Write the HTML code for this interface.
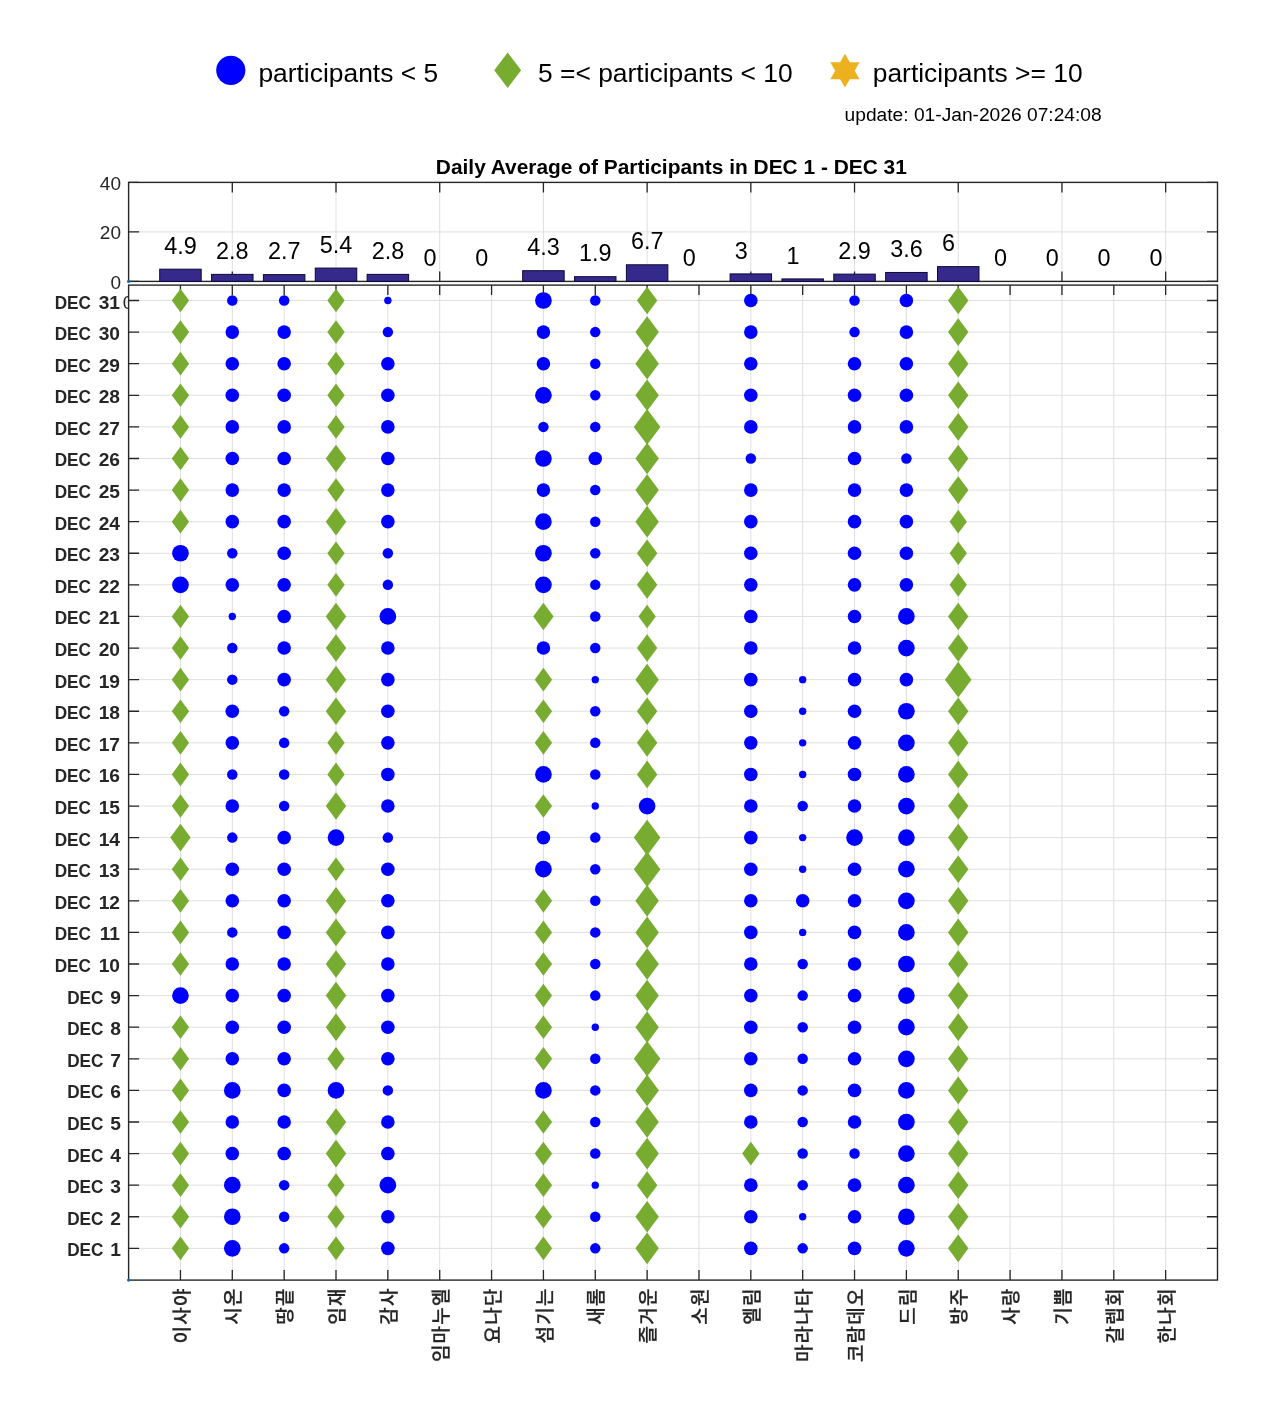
<!DOCTYPE html>
<html><head><meta charset="utf-8"><title>Daily Average of Participants</title>
<style>html,body{margin:0;padding:0;background:#fff;} svg{display:block;}</style>
</head><body>
<svg width="1280" height="1422" viewBox="0 0 1280 1422">
<rect x="0" y="0" width="1280" height="1422" fill="#ffffff"/>
<circle cx="230.8" cy="70.35" r="14.6" fill="#0000ff"/>
<polygon points="507.7,52.6 521.15,70.3 507.7,88.0 494.25,70.3" fill="#77ac30"/>
<polygon points="844.95,53.80 840.07,62.25 830.31,62.25 835.19,70.70 830.31,79.15 840.07,79.15 844.95,87.60 849.83,79.15 859.59,79.15 854.71,70.70 859.59,62.25 849.83,62.25" fill="#edb120"/>
<text x="258.38" y="81.7" font-family="Liberation Sans, Arial, sans-serif" font-size="26.4" fill="#000">participants &lt; 5</text>
<text x="538.04" y="81.7" font-family="Liberation Sans, Arial, sans-serif" font-size="26.4" fill="#000">5 =&lt; participants &lt; 10</text>
<text x="872.78" y="81.7" font-family="Liberation Sans, Arial, sans-serif" font-size="26.4" fill="#000">participants &gt;= 10</text>
<text x="844.55" y="121.3" font-family="Liberation Sans, Arial, sans-serif" font-size="19.2" fill="#000">update: 01-Jan-2026 07:24:08</text>
<text x="435.84" y="173.7" font-family="Liberation Sans, Arial, sans-serif" font-size="20.9" font-weight="bold" fill="#000">Daily Average of Participants in DEC 1 - DEC 31</text>
<rect x="128.6" y="182.4" width="1088.90" height="99.00" fill="#fff"/>
<path d="M232.30 182.4V281.4M336.01 182.4V281.4M439.71 182.4V281.4M543.42 182.4V281.4M647.12 182.4V281.4M750.83 182.4V281.4M854.53 182.4V281.4M958.24 182.4V281.4M1061.94 182.4V281.4M1165.65 182.4V281.4M128.6 231.90H1217.5" stroke="#dfdfdf" stroke-width="1" fill="none"/>
<path d="M232.30 182.4v10M232.30 281.4v-10M336.01 182.4v10M336.01 281.4v-10M439.71 182.4v10M439.71 281.4v-10M543.42 182.4v10M543.42 281.4v-10M647.12 182.4v10M647.12 281.4v-10M750.83 182.4v10M750.83 281.4v-10M854.53 182.4v10M854.53 281.4v-10M958.24 182.4v10M958.24 281.4v-10M1061.94 182.4v10M1061.94 281.4v-10M1165.65 182.4v10M1165.65 281.4v-10M128.6 281.40h10.5M1217.5 281.40h-10.5M128.6 231.90h10.5M1217.5 231.90h-10.5M128.6 182.40h10.5M1217.5 182.40h-10.5" stroke="#262626" stroke-width="1.3" fill="none"/>
<rect x="128.6" y="182.4" width="1088.90" height="99.00" fill="none" stroke="#262626" stroke-width="1.4"/>
<rect x="159.71" y="269.18" width="41.48" height="12.22" fill="#35298c" stroke="#0b0836" stroke-width="1"/>
<rect x="211.56" y="274.37" width="41.48" height="7.03" fill="#35298c" stroke="#0b0836" stroke-width="1"/>
<rect x="263.42" y="274.61" width="41.48" height="6.79" fill="#35298c" stroke="#0b0836" stroke-width="1"/>
<rect x="315.27" y="268.07" width="41.48" height="13.33" fill="#35298c" stroke="#0b0836" stroke-width="1"/>
<rect x="367.12" y="274.37" width="41.48" height="7.03" fill="#35298c" stroke="#0b0836" stroke-width="1"/>
<rect x="522.68" y="270.70" width="41.48" height="10.70" fill="#35298c" stroke="#0b0836" stroke-width="1"/>
<rect x="574.53" y="276.69" width="41.48" height="4.71" fill="#35298c" stroke="#0b0836" stroke-width="1"/>
<rect x="626.38" y="264.79" width="41.48" height="16.61" fill="#35298c" stroke="#0b0836" stroke-width="1"/>
<rect x="730.09" y="273.90" width="41.48" height="7.50" fill="#35298c" stroke="#0b0836" stroke-width="1"/>
<rect x="781.94" y="278.92" width="41.48" height="2.48" fill="#35298c" stroke="#0b0836" stroke-width="1"/>
<rect x="833.79" y="274.13" width="41.48" height="7.27" fill="#35298c" stroke="#0b0836" stroke-width="1"/>
<rect x="885.64" y="272.46" width="41.48" height="8.94" fill="#35298c" stroke="#0b0836" stroke-width="1"/>
<rect x="937.50" y="266.63" width="41.48" height="14.77" fill="#35298c" stroke="#0b0836" stroke-width="1"/>
<text x="164.25" y="253.78" font-family="Liberation Sans, Arial, sans-serif" font-size="23.4" fill="#000">4.9</text>
<text x="216.10" y="258.97" font-family="Liberation Sans, Arial, sans-serif" font-size="23.4" fill="#000">2.8</text>
<text x="267.96" y="259.21" font-family="Liberation Sans, Arial, sans-serif" font-size="23.4" fill="#000">2.7</text>
<text x="319.81" y="252.67" font-family="Liberation Sans, Arial, sans-serif" font-size="23.4" fill="#000">5.4</text>
<text x="371.66" y="258.97" font-family="Liberation Sans, Arial, sans-serif" font-size="23.4" fill="#000">2.8</text>
<text x="423.51" y="266.00" font-family="Liberation Sans, Arial, sans-serif" font-size="23.4" fill="#000">0</text>
<text x="475.37" y="266.00" font-family="Liberation Sans, Arial, sans-serif" font-size="23.4" fill="#000">0</text>
<text x="527.22" y="255.30" font-family="Liberation Sans, Arial, sans-serif" font-size="23.4" fill="#000">4.3</text>
<text x="579.07" y="261.29" font-family="Liberation Sans, Arial, sans-serif" font-size="23.4" fill="#000">1.9</text>
<text x="630.92" y="249.39" font-family="Liberation Sans, Arial, sans-serif" font-size="23.4" fill="#000">6.7</text>
<text x="682.78" y="266.00" font-family="Liberation Sans, Arial, sans-serif" font-size="23.4" fill="#000">0</text>
<text x="734.63" y="258.50" font-family="Liberation Sans, Arial, sans-serif" font-size="23.4" fill="#000">3</text>
<text x="786.48" y="263.52" font-family="Liberation Sans, Arial, sans-serif" font-size="23.4" fill="#000">1</text>
<text x="838.33" y="258.73" font-family="Liberation Sans, Arial, sans-serif" font-size="23.4" fill="#000">2.9</text>
<text x="890.19" y="257.06" font-family="Liberation Sans, Arial, sans-serif" font-size="23.4" fill="#000">3.6</text>
<text x="942.04" y="251.23" font-family="Liberation Sans, Arial, sans-serif" font-size="23.4" fill="#000">6</text>
<text x="993.89" y="266.00" font-family="Liberation Sans, Arial, sans-serif" font-size="23.4" fill="#000">0</text>
<text x="1045.74" y="266.00" font-family="Liberation Sans, Arial, sans-serif" font-size="23.4" fill="#000">0</text>
<text x="1097.60" y="266.00" font-family="Liberation Sans, Arial, sans-serif" font-size="23.4" fill="#000">0</text>
<text x="1149.45" y="266.00" font-family="Liberation Sans, Arial, sans-serif" font-size="23.4" fill="#000">0</text>
<text x="121.0" y="288.80" font-family="Liberation Sans, Arial, sans-serif" font-size="19" fill="#262626" text-anchor="end">0</text>
<text x="121.0" y="239.30" font-family="Liberation Sans, Arial, sans-serif" font-size="19" fill="#262626" text-anchor="end">20</text>
<text x="121.0" y="189.80" font-family="Liberation Sans, Arial, sans-serif" font-size="19" fill="#262626" text-anchor="end">40</text>
<circle cx="128.6" cy="281.4" r="1.6" fill="#0072bd"/>
<text x="122.86" y="308.7" font-family="Liberation Sans, Arial, sans-serif" font-size="18.6" fill="#262626">0</text>
<rect x="128.6" y="285.1" width="1088.90" height="995.00" fill="#fff"/>
<path d="M180.45 285.1V1280.1M232.30 285.1V1280.1M284.16 285.1V1280.1M336.01 285.1V1280.1M387.86 285.1V1280.1M439.71 285.1V1280.1M491.57 285.1V1280.1M543.42 285.1V1280.1M595.27 285.1V1280.1M647.12 285.1V1280.1M698.98 285.1V1280.1M750.83 285.1V1280.1M802.68 285.1V1280.1M854.53 285.1V1280.1M906.39 285.1V1280.1M958.24 285.1V1280.1M1010.09 285.1V1280.1M1061.94 285.1V1280.1M1113.80 285.1V1280.1M1165.65 285.1V1280.1M128.6 1248.36H1217.5M128.6 1216.76H1217.5M128.6 1185.16H1217.5M128.6 1153.57H1217.5M128.6 1121.98H1217.5M128.6 1090.38H1217.5M128.6 1058.79H1217.5M128.6 1027.19H1217.5M128.6 995.60H1217.5M128.6 964.00H1217.5M128.6 932.41H1217.5M128.6 900.81H1217.5M128.6 869.22H1217.5M128.6 837.62H1217.5M128.6 806.03H1217.5M128.6 774.43H1217.5M128.6 742.84H1217.5M128.6 711.24H1217.5M128.6 679.65H1217.5M128.6 648.05H1217.5M128.6 616.46H1217.5M128.6 584.86H1217.5M128.6 553.27H1217.5M128.6 521.67H1217.5M128.6 490.08H1217.5M128.6 458.48H1217.5M128.6 426.89H1217.5M128.6 395.29H1217.5M128.6 363.70H1217.5M128.6 332.10H1217.5M128.6 300.51H1217.5" stroke="#dfdfdf" stroke-width="1" fill="none"/>
<path d="M180.45 285.1v10M180.45 1280.1v-10M232.30 285.1v10M232.30 1280.1v-10M284.16 285.1v10M284.16 1280.1v-10M336.01 285.1v10M336.01 1280.1v-10M387.86 285.1v10M387.86 1280.1v-10M439.71 285.1v10M439.71 1280.1v-10M491.57 285.1v10M491.57 1280.1v-10M543.42 285.1v10M543.42 1280.1v-10M595.27 285.1v10M595.27 1280.1v-10M647.12 285.1v10M647.12 1280.1v-10M698.98 285.1v10M698.98 1280.1v-10M750.83 285.1v10M750.83 1280.1v-10M802.68 285.1v10M802.68 1280.1v-10M854.53 285.1v10M854.53 1280.1v-10M906.39 285.1v10M906.39 1280.1v-10M958.24 285.1v10M958.24 1280.1v-10M1010.09 285.1v10M1010.09 1280.1v-10M1061.94 285.1v10M1061.94 1280.1v-10M1113.80 285.1v10M1113.80 1280.1v-10M1165.65 285.1v10M1165.65 1280.1v-10M128.6 1248.36h10.5M1217.5 1248.36h-10.5M128.6 1216.76h10.5M1217.5 1216.76h-10.5M128.6 1185.16h10.5M1217.5 1185.16h-10.5M128.6 1153.57h10.5M1217.5 1153.57h-10.5M128.6 1121.98h10.5M1217.5 1121.98h-10.5M128.6 1090.38h10.5M1217.5 1090.38h-10.5M128.6 1058.79h10.5M1217.5 1058.79h-10.5M128.6 1027.19h10.5M1217.5 1027.19h-10.5M128.6 995.60h10.5M1217.5 995.60h-10.5M128.6 964.00h10.5M1217.5 964.00h-10.5M128.6 932.41h10.5M1217.5 932.41h-10.5M128.6 900.81h10.5M1217.5 900.81h-10.5M128.6 869.22h10.5M1217.5 869.22h-10.5M128.6 837.62h10.5M1217.5 837.62h-10.5M128.6 806.03h10.5M1217.5 806.03h-10.5M128.6 774.43h10.5M1217.5 774.43h-10.5M128.6 742.84h10.5M1217.5 742.84h-10.5M128.6 711.24h10.5M1217.5 711.24h-10.5M128.6 679.65h10.5M1217.5 679.65h-10.5M128.6 648.05h10.5M1217.5 648.05h-10.5M128.6 616.46h10.5M1217.5 616.46h-10.5M128.6 584.86h10.5M1217.5 584.86h-10.5M128.6 553.27h10.5M1217.5 553.27h-10.5M128.6 521.67h10.5M1217.5 521.67h-10.5M128.6 490.08h10.5M1217.5 490.08h-10.5M128.6 458.48h10.5M1217.5 458.48h-10.5M128.6 426.89h10.5M1217.5 426.89h-10.5M128.6 395.29h10.5M1217.5 395.29h-10.5M128.6 363.70h10.5M1217.5 363.70h-10.5M128.6 332.10h10.5M1217.5 332.10h-10.5M128.6 300.51h10.5M1217.5 300.51h-10.5" stroke="#262626" stroke-width="1.3" fill="none"/>
<rect x="128.6" y="285.1" width="1088.90" height="995.00" fill="none" stroke="#262626" stroke-width="1.4"/>
<circle cx="128.6" cy="1280.1" r="1.6" fill="#0072bd"/>
<g fill="#0000ff"><circle cx="180.45" cy="553.27" r="8.35"/><circle cx="180.45" cy="584.86" r="8.35"/><circle cx="180.45" cy="995.60" r="8.35"/><circle cx="232.30" cy="300.51" r="5.25"/><circle cx="232.30" cy="332.10" r="6.80"/><circle cx="232.30" cy="363.70" r="6.80"/><circle cx="232.30" cy="395.29" r="6.80"/><circle cx="232.30" cy="426.89" r="6.80"/><circle cx="232.30" cy="458.48" r="6.80"/><circle cx="232.30" cy="490.08" r="6.80"/><circle cx="232.30" cy="521.67" r="6.80"/><circle cx="232.30" cy="553.27" r="5.25"/><circle cx="232.30" cy="584.86" r="6.80"/><circle cx="232.30" cy="616.46" r="3.70"/><circle cx="232.30" cy="648.05" r="5.25"/><circle cx="232.30" cy="679.65" r="5.25"/><circle cx="232.30" cy="711.24" r="6.80"/><circle cx="232.30" cy="742.84" r="6.80"/><circle cx="232.30" cy="774.43" r="5.25"/><circle cx="232.30" cy="806.03" r="6.80"/><circle cx="232.30" cy="837.62" r="5.25"/><circle cx="232.30" cy="869.22" r="6.80"/><circle cx="232.30" cy="900.81" r="6.80"/><circle cx="232.30" cy="932.41" r="5.25"/><circle cx="232.30" cy="964.00" r="6.80"/><circle cx="232.30" cy="995.60" r="6.80"/><circle cx="232.30" cy="1027.19" r="6.80"/><circle cx="232.30" cy="1058.79" r="6.80"/><circle cx="232.30" cy="1090.38" r="8.35"/><circle cx="232.30" cy="1121.98" r="6.80"/><circle cx="232.30" cy="1153.57" r="6.80"/><circle cx="232.30" cy="1185.16" r="8.35"/><circle cx="232.30" cy="1216.76" r="8.35"/><circle cx="232.30" cy="1248.36" r="8.35"/><circle cx="284.16" cy="300.51" r="5.25"/><circle cx="284.16" cy="332.10" r="6.80"/><circle cx="284.16" cy="363.70" r="6.80"/><circle cx="284.16" cy="395.29" r="6.80"/><circle cx="284.16" cy="426.89" r="6.80"/><circle cx="284.16" cy="458.48" r="6.80"/><circle cx="284.16" cy="490.08" r="6.80"/><circle cx="284.16" cy="521.67" r="6.80"/><circle cx="284.16" cy="553.27" r="6.80"/><circle cx="284.16" cy="584.86" r="6.80"/><circle cx="284.16" cy="616.46" r="6.80"/><circle cx="284.16" cy="648.05" r="6.80"/><circle cx="284.16" cy="679.65" r="6.80"/><circle cx="284.16" cy="711.24" r="5.25"/><circle cx="284.16" cy="742.84" r="5.25"/><circle cx="284.16" cy="774.43" r="5.25"/><circle cx="284.16" cy="806.03" r="5.25"/><circle cx="284.16" cy="837.62" r="6.80"/><circle cx="284.16" cy="869.22" r="6.80"/><circle cx="284.16" cy="900.81" r="6.80"/><circle cx="284.16" cy="932.41" r="6.80"/><circle cx="284.16" cy="964.00" r="6.80"/><circle cx="284.16" cy="995.60" r="6.80"/><circle cx="284.16" cy="1027.19" r="6.80"/><circle cx="284.16" cy="1058.79" r="6.80"/><circle cx="284.16" cy="1090.38" r="6.80"/><circle cx="284.16" cy="1121.98" r="6.80"/><circle cx="284.16" cy="1153.57" r="6.80"/><circle cx="284.16" cy="1185.16" r="5.25"/><circle cx="284.16" cy="1216.76" r="5.25"/><circle cx="284.16" cy="1248.36" r="5.25"/><circle cx="336.01" cy="837.62" r="8.35"/><circle cx="336.01" cy="1090.38" r="8.35"/><circle cx="387.86" cy="300.51" r="3.70"/><circle cx="387.86" cy="332.10" r="5.25"/><circle cx="387.86" cy="363.70" r="6.80"/><circle cx="387.86" cy="395.29" r="6.80"/><circle cx="387.86" cy="426.89" r="6.80"/><circle cx="387.86" cy="458.48" r="6.80"/><circle cx="387.86" cy="490.08" r="6.80"/><circle cx="387.86" cy="521.67" r="6.80"/><circle cx="387.86" cy="553.27" r="5.25"/><circle cx="387.86" cy="584.86" r="5.25"/><circle cx="387.86" cy="616.46" r="8.35"/><circle cx="387.86" cy="648.05" r="6.80"/><circle cx="387.86" cy="679.65" r="6.80"/><circle cx="387.86" cy="711.24" r="6.80"/><circle cx="387.86" cy="742.84" r="6.80"/><circle cx="387.86" cy="774.43" r="6.80"/><circle cx="387.86" cy="806.03" r="6.80"/><circle cx="387.86" cy="837.62" r="5.25"/><circle cx="387.86" cy="869.22" r="6.80"/><circle cx="387.86" cy="900.81" r="6.80"/><circle cx="387.86" cy="932.41" r="6.80"/><circle cx="387.86" cy="964.00" r="6.80"/><circle cx="387.86" cy="995.60" r="6.80"/><circle cx="387.86" cy="1027.19" r="6.80"/><circle cx="387.86" cy="1058.79" r="6.80"/><circle cx="387.86" cy="1090.38" r="5.25"/><circle cx="387.86" cy="1121.98" r="6.80"/><circle cx="387.86" cy="1153.57" r="6.80"/><circle cx="387.86" cy="1185.16" r="8.35"/><circle cx="387.86" cy="1216.76" r="6.80"/><circle cx="387.86" cy="1248.36" r="6.80"/><circle cx="543.42" cy="300.51" r="8.35"/><circle cx="543.42" cy="332.10" r="6.80"/><circle cx="543.42" cy="363.70" r="6.80"/><circle cx="543.42" cy="395.29" r="8.35"/><circle cx="543.42" cy="426.89" r="5.25"/><circle cx="543.42" cy="458.48" r="8.35"/><circle cx="543.42" cy="490.08" r="6.80"/><circle cx="543.42" cy="521.67" r="8.35"/><circle cx="543.42" cy="553.27" r="8.35"/><circle cx="543.42" cy="584.86" r="8.35"/><circle cx="543.42" cy="648.05" r="6.80"/><circle cx="543.42" cy="774.43" r="8.35"/><circle cx="543.42" cy="837.62" r="6.80"/><circle cx="543.42" cy="869.22" r="8.35"/><circle cx="543.42" cy="1090.38" r="8.35"/><circle cx="595.27" cy="300.51" r="5.25"/><circle cx="595.27" cy="332.10" r="5.25"/><circle cx="595.27" cy="363.70" r="5.25"/><circle cx="595.27" cy="395.29" r="5.25"/><circle cx="595.27" cy="426.89" r="5.25"/><circle cx="595.27" cy="458.48" r="6.80"/><circle cx="595.27" cy="490.08" r="5.25"/><circle cx="595.27" cy="521.67" r="5.25"/><circle cx="595.27" cy="553.27" r="5.25"/><circle cx="595.27" cy="584.86" r="5.25"/><circle cx="595.27" cy="616.46" r="5.25"/><circle cx="595.27" cy="648.05" r="5.25"/><circle cx="595.27" cy="679.65" r="3.70"/><circle cx="595.27" cy="711.24" r="5.25"/><circle cx="595.27" cy="742.84" r="5.25"/><circle cx="595.27" cy="774.43" r="5.25"/><circle cx="595.27" cy="806.03" r="3.70"/><circle cx="595.27" cy="837.62" r="5.25"/><circle cx="595.27" cy="869.22" r="5.25"/><circle cx="595.27" cy="900.81" r="5.25"/><circle cx="595.27" cy="932.41" r="5.25"/><circle cx="595.27" cy="964.00" r="5.25"/><circle cx="595.27" cy="995.60" r="5.25"/><circle cx="595.27" cy="1027.19" r="3.70"/><circle cx="595.27" cy="1058.79" r="5.25"/><circle cx="595.27" cy="1090.38" r="5.25"/><circle cx="595.27" cy="1121.98" r="5.25"/><circle cx="595.27" cy="1153.57" r="5.25"/><circle cx="595.27" cy="1185.16" r="3.70"/><circle cx="595.27" cy="1216.76" r="5.25"/><circle cx="595.27" cy="1248.36" r="5.25"/><circle cx="647.12" cy="806.03" r="8.35"/><circle cx="750.83" cy="300.51" r="6.80"/><circle cx="750.83" cy="332.10" r="6.80"/><circle cx="750.83" cy="363.70" r="6.80"/><circle cx="750.83" cy="395.29" r="6.80"/><circle cx="750.83" cy="426.89" r="6.80"/><circle cx="750.83" cy="458.48" r="5.25"/><circle cx="750.83" cy="490.08" r="6.80"/><circle cx="750.83" cy="521.67" r="6.80"/><circle cx="750.83" cy="553.27" r="6.80"/><circle cx="750.83" cy="584.86" r="6.80"/><circle cx="750.83" cy="616.46" r="6.80"/><circle cx="750.83" cy="648.05" r="6.80"/><circle cx="750.83" cy="679.65" r="6.80"/><circle cx="750.83" cy="711.24" r="6.80"/><circle cx="750.83" cy="742.84" r="6.80"/><circle cx="750.83" cy="774.43" r="6.80"/><circle cx="750.83" cy="806.03" r="6.80"/><circle cx="750.83" cy="837.62" r="6.80"/><circle cx="750.83" cy="869.22" r="6.80"/><circle cx="750.83" cy="900.81" r="6.80"/><circle cx="750.83" cy="932.41" r="6.80"/><circle cx="750.83" cy="964.00" r="6.80"/><circle cx="750.83" cy="995.60" r="6.80"/><circle cx="750.83" cy="1027.19" r="6.80"/><circle cx="750.83" cy="1058.79" r="6.80"/><circle cx="750.83" cy="1090.38" r="6.80"/><circle cx="750.83" cy="1121.98" r="6.80"/><circle cx="750.83" cy="1185.16" r="6.80"/><circle cx="750.83" cy="1216.76" r="6.80"/><circle cx="750.83" cy="1248.36" r="6.80"/><circle cx="802.68" cy="679.65" r="3.70"/><circle cx="802.68" cy="711.24" r="3.70"/><circle cx="802.68" cy="742.84" r="3.70"/><circle cx="802.68" cy="774.43" r="3.70"/><circle cx="802.68" cy="806.03" r="5.25"/><circle cx="802.68" cy="837.62" r="3.70"/><circle cx="802.68" cy="869.22" r="3.70"/><circle cx="802.68" cy="900.81" r="6.80"/><circle cx="802.68" cy="932.41" r="3.70"/><circle cx="802.68" cy="964.00" r="5.25"/><circle cx="802.68" cy="995.60" r="5.25"/><circle cx="802.68" cy="1027.19" r="5.25"/><circle cx="802.68" cy="1058.79" r="5.25"/><circle cx="802.68" cy="1090.38" r="5.25"/><circle cx="802.68" cy="1121.98" r="5.25"/><circle cx="802.68" cy="1153.57" r="5.25"/><circle cx="802.68" cy="1185.16" r="5.25"/><circle cx="802.68" cy="1216.76" r="3.70"/><circle cx="802.68" cy="1248.36" r="5.25"/><circle cx="854.53" cy="300.51" r="5.25"/><circle cx="854.53" cy="332.10" r="5.25"/><circle cx="854.53" cy="363.70" r="6.80"/><circle cx="854.53" cy="395.29" r="6.80"/><circle cx="854.53" cy="426.89" r="6.80"/><circle cx="854.53" cy="458.48" r="6.80"/><circle cx="854.53" cy="490.08" r="6.80"/><circle cx="854.53" cy="521.67" r="6.80"/><circle cx="854.53" cy="553.27" r="6.80"/><circle cx="854.53" cy="584.86" r="6.80"/><circle cx="854.53" cy="616.46" r="6.80"/><circle cx="854.53" cy="648.05" r="6.80"/><circle cx="854.53" cy="679.65" r="6.80"/><circle cx="854.53" cy="711.24" r="6.80"/><circle cx="854.53" cy="742.84" r="6.80"/><circle cx="854.53" cy="774.43" r="6.80"/><circle cx="854.53" cy="806.03" r="6.80"/><circle cx="854.53" cy="837.62" r="8.35"/><circle cx="854.53" cy="869.22" r="6.80"/><circle cx="854.53" cy="900.81" r="6.80"/><circle cx="854.53" cy="932.41" r="6.80"/><circle cx="854.53" cy="964.00" r="6.80"/><circle cx="854.53" cy="995.60" r="6.80"/><circle cx="854.53" cy="1027.19" r="6.80"/><circle cx="854.53" cy="1058.79" r="6.80"/><circle cx="854.53" cy="1090.38" r="6.80"/><circle cx="854.53" cy="1121.98" r="6.80"/><circle cx="854.53" cy="1153.57" r="5.25"/><circle cx="854.53" cy="1185.16" r="6.80"/><circle cx="854.53" cy="1216.76" r="6.80"/><circle cx="854.53" cy="1248.36" r="6.80"/><circle cx="906.39" cy="300.51" r="6.80"/><circle cx="906.39" cy="332.10" r="6.80"/><circle cx="906.39" cy="363.70" r="6.80"/><circle cx="906.39" cy="395.29" r="6.80"/><circle cx="906.39" cy="426.89" r="6.80"/><circle cx="906.39" cy="458.48" r="5.25"/><circle cx="906.39" cy="490.08" r="6.80"/><circle cx="906.39" cy="521.67" r="6.80"/><circle cx="906.39" cy="553.27" r="6.80"/><circle cx="906.39" cy="584.86" r="6.80"/><circle cx="906.39" cy="616.46" r="8.35"/><circle cx="906.39" cy="648.05" r="8.35"/><circle cx="906.39" cy="679.65" r="6.80"/><circle cx="906.39" cy="711.24" r="8.35"/><circle cx="906.39" cy="742.84" r="8.35"/><circle cx="906.39" cy="774.43" r="8.35"/><circle cx="906.39" cy="806.03" r="8.35"/><circle cx="906.39" cy="837.62" r="8.35"/><circle cx="906.39" cy="869.22" r="8.35"/><circle cx="906.39" cy="900.81" r="8.35"/><circle cx="906.39" cy="932.41" r="8.35"/><circle cx="906.39" cy="964.00" r="8.35"/><circle cx="906.39" cy="995.60" r="8.35"/><circle cx="906.39" cy="1027.19" r="8.35"/><circle cx="906.39" cy="1058.79" r="8.35"/><circle cx="906.39" cy="1090.38" r="8.35"/><circle cx="906.39" cy="1121.98" r="8.35"/><circle cx="906.39" cy="1153.57" r="8.35"/><circle cx="906.39" cy="1185.16" r="8.35"/><circle cx="906.39" cy="1216.76" r="8.35"/><circle cx="906.39" cy="1248.36" r="8.35"/></g>
<g fill="#77ac30"><polygon points="180.45,288.68 189.13,300.51 180.45,312.33 171.78,300.51"/><polygon points="180.45,320.28 189.13,332.10 180.45,343.92 171.78,332.10"/><polygon points="180.45,351.87 189.13,363.70 180.45,375.52 171.78,363.70"/><polygon points="180.45,383.47 189.13,395.29 180.45,407.11 171.78,395.29"/><polygon points="180.45,415.06 189.13,426.89 180.45,438.71 171.78,426.89"/><polygon points="180.45,446.66 189.13,458.48 180.45,470.30 171.78,458.48"/><polygon points="180.45,478.25 189.13,490.08 180.45,501.90 171.78,490.08"/><polygon points="180.45,509.85 189.13,521.67 180.45,533.49 171.78,521.67"/><polygon points="180.45,604.63 189.13,616.46 180.45,628.28 171.78,616.46"/><polygon points="180.45,636.23 189.13,648.05 180.45,659.87 171.78,648.05"/><polygon points="180.45,667.82 189.13,679.65 180.45,691.47 171.78,679.65"/><polygon points="180.45,699.42 189.13,711.24 180.45,723.06 171.78,711.24"/><polygon points="180.45,731.01 189.13,742.84 180.45,754.66 171.78,742.84"/><polygon points="180.45,762.61 189.13,774.43 180.45,786.25 171.78,774.43"/><polygon points="180.45,794.20 189.13,806.03 180.45,817.85 171.78,806.03"/><polygon points="180.45,823.80 190.66,837.62 180.45,851.44 170.24,837.62"/><polygon points="180.45,857.39 189.13,869.22 180.45,881.04 171.78,869.22"/><polygon points="180.45,888.99 189.13,900.81 180.45,912.63 171.78,900.81"/><polygon points="180.45,920.58 189.13,932.41 180.45,944.23 171.78,932.41"/><polygon points="180.45,952.18 189.13,964.00 180.45,975.82 171.78,964.00"/><polygon points="180.45,1015.37 189.13,1027.19 180.45,1039.01 171.78,1027.19"/><polygon points="180.45,1046.96 189.13,1058.79 180.45,1070.61 171.78,1058.79"/><polygon points="180.45,1078.56 189.13,1090.38 180.45,1102.20 171.78,1090.38"/><polygon points="180.45,1110.15 189.13,1121.98 180.45,1133.80 171.78,1121.98"/><polygon points="180.45,1141.75 189.13,1153.57 180.45,1165.39 171.78,1153.57"/><polygon points="180.45,1173.34 189.13,1185.16 180.45,1196.99 171.78,1185.16"/><polygon points="180.45,1204.94 189.13,1216.76 180.45,1228.58 171.78,1216.76"/><polygon points="180.45,1236.53 189.13,1248.36 180.45,1260.18 171.78,1248.36"/><polygon points="336.01,288.68 344.68,300.51 336.01,312.33 327.33,300.51"/><polygon points="336.01,320.28 344.68,332.10 336.01,343.92 327.33,332.10"/><polygon points="336.01,351.87 344.68,363.70 336.01,375.52 327.33,363.70"/><polygon points="336.01,383.47 344.68,395.29 336.01,407.11 327.33,395.29"/><polygon points="336.01,415.06 344.68,426.89 336.01,438.71 327.33,426.89"/><polygon points="336.01,444.66 346.22,458.48 336.01,472.30 325.80,458.48"/><polygon points="336.01,478.25 344.68,490.08 336.01,501.90 327.33,490.08"/><polygon points="336.01,507.85 346.22,521.67 336.01,535.49 325.80,521.67"/><polygon points="336.01,541.44 344.68,553.27 336.01,565.09 327.33,553.27"/><polygon points="336.01,573.04 344.68,584.86 336.01,596.68 327.33,584.86"/><polygon points="336.01,602.63 346.22,616.46 336.01,630.28 325.80,616.46"/><polygon points="336.01,634.23 346.22,648.05 336.01,661.87 325.80,648.05"/><polygon points="336.01,665.82 346.22,679.65 336.01,693.47 325.80,679.65"/><polygon points="336.01,697.42 346.22,711.24 336.01,725.06 325.80,711.24"/><polygon points="336.01,731.01 344.68,742.84 336.01,754.66 327.33,742.84"/><polygon points="336.01,762.61 344.68,774.43 336.01,786.25 327.33,774.43"/><polygon points="336.01,792.20 346.22,806.03 336.01,819.85 325.80,806.03"/><polygon points="336.01,857.39 344.68,869.22 336.01,881.04 327.33,869.22"/><polygon points="336.01,886.99 346.22,900.81 336.01,914.63 325.80,900.81"/><polygon points="336.01,918.58 346.22,932.41 336.01,946.23 325.80,932.41"/><polygon points="336.01,950.18 346.22,964.00 336.01,977.82 325.80,964.00"/><polygon points="336.01,981.77 346.22,995.60 336.01,1009.42 325.80,995.60"/><polygon points="336.01,1013.37 346.22,1027.19 336.01,1041.01 325.80,1027.19"/><polygon points="336.01,1046.96 344.68,1058.79 336.01,1070.61 327.33,1058.79"/><polygon points="336.01,1108.15 346.22,1121.98 336.01,1135.80 325.80,1121.98"/><polygon points="336.01,1139.75 346.22,1153.57 336.01,1167.39 325.80,1153.57"/><polygon points="336.01,1173.34 344.68,1185.16 336.01,1196.99 327.33,1185.16"/><polygon points="336.01,1204.94 344.68,1216.76 336.01,1228.58 327.33,1216.76"/><polygon points="336.01,1236.53 344.68,1248.36 336.01,1260.18 327.33,1248.36"/><polygon points="543.42,602.63 553.63,616.46 543.42,630.28 533.21,616.46"/><polygon points="543.42,667.82 552.09,679.65 543.42,691.47 534.74,679.65"/><polygon points="543.42,699.42 552.09,711.24 543.42,723.06 534.74,711.24"/><polygon points="543.42,731.01 552.09,742.84 543.42,754.66 534.74,742.84"/><polygon points="543.42,794.20 552.09,806.03 543.42,817.85 534.74,806.03"/><polygon points="543.42,888.99 552.09,900.81 543.42,912.63 534.74,900.81"/><polygon points="543.42,920.58 552.09,932.41 543.42,944.23 534.74,932.41"/><polygon points="543.42,952.18 552.09,964.00 543.42,975.82 534.74,964.00"/><polygon points="543.42,983.77 552.09,995.60 543.42,1007.42 534.74,995.60"/><polygon points="543.42,1015.37 552.09,1027.19 543.42,1039.01 534.74,1027.19"/><polygon points="543.42,1046.96 552.09,1058.79 543.42,1070.61 534.74,1058.79"/><polygon points="543.42,1110.15 552.09,1121.98 543.42,1133.80 534.74,1121.98"/><polygon points="543.42,1141.75 552.09,1153.57 543.42,1165.39 534.74,1153.57"/><polygon points="543.42,1173.34 552.09,1185.16 543.42,1196.99 534.74,1185.16"/><polygon points="543.42,1204.94 552.09,1216.76 543.42,1228.58 534.74,1216.76"/><polygon points="543.42,1236.53 552.09,1248.36 543.42,1260.18 534.74,1248.36"/><polygon points="647.12,286.68 657.33,300.51 647.12,314.33 636.91,300.51"/><polygon points="647.12,316.27 658.87,332.10 647.12,347.93 635.38,332.10"/><polygon points="647.12,347.87 658.87,363.70 647.12,379.52 635.38,363.70"/><polygon points="647.12,379.46 658.87,395.29 647.12,411.12 635.38,395.29"/><polygon points="647.12,409.05 660.40,426.89 647.12,444.72 633.84,426.89"/><polygon points="647.12,442.65 658.87,458.48 647.12,474.31 635.38,458.48"/><polygon points="647.12,474.25 658.87,490.08 647.12,505.90 635.38,490.08"/><polygon points="647.12,505.84 658.87,521.67 647.12,537.50 635.38,521.67"/><polygon points="647.12,539.44 657.33,553.27 647.12,567.09 636.91,553.27"/><polygon points="647.12,571.04 657.33,584.86 647.12,598.68 636.91,584.86"/><polygon points="647.12,604.63 655.80,616.46 647.12,628.28 638.45,616.46"/><polygon points="647.12,634.23 657.33,648.05 647.12,661.87 636.91,648.05"/><polygon points="647.12,663.82 658.87,679.65 647.12,695.47 635.38,679.65"/><polygon points="647.12,697.42 657.33,711.24 647.12,725.06 636.91,711.24"/><polygon points="647.12,729.01 657.33,742.84 647.12,756.66 636.91,742.84"/><polygon points="647.12,760.61 657.33,774.43 647.12,788.25 636.91,774.43"/><polygon points="647.12,819.79 660.40,837.62 647.12,855.45 633.84,837.62"/><polygon points="647.12,851.38 660.40,869.22 647.12,887.05 633.84,869.22"/><polygon points="647.12,884.98 658.87,900.81 647.12,916.64 635.38,900.81"/><polygon points="647.12,916.58 658.87,932.41 647.12,948.23 635.38,932.41"/><polygon points="647.12,948.17 658.87,964.00 647.12,979.83 635.38,964.00"/><polygon points="647.12,979.77 658.87,995.60 647.12,1011.42 635.38,995.60"/><polygon points="647.12,1011.36 658.87,1027.19 647.12,1043.02 635.38,1027.19"/><polygon points="647.12,1040.95 660.40,1058.79 647.12,1076.62 633.84,1058.79"/><polygon points="647.12,1074.55 658.87,1090.38 647.12,1106.21 635.38,1090.38"/><polygon points="647.12,1106.15 658.87,1121.98 647.12,1137.80 635.38,1121.98"/><polygon points="647.12,1137.74 658.87,1153.57 647.12,1169.40 635.38,1153.57"/><polygon points="647.12,1171.34 657.33,1185.16 647.12,1198.99 636.91,1185.16"/><polygon points="647.12,1200.93 658.87,1216.76 647.12,1232.59 635.38,1216.76"/><polygon points="647.12,1232.53 658.87,1248.36 647.12,1264.18 635.38,1248.36"/><polygon points="750.83,1141.75 759.50,1153.57 750.83,1165.39 742.15,1153.57"/><polygon points="958.24,286.68 968.45,300.51 958.24,314.33 948.03,300.51"/><polygon points="958.24,318.28 968.45,332.10 958.24,345.92 948.03,332.10"/><polygon points="958.24,349.87 968.45,363.70 958.24,377.52 948.03,363.70"/><polygon points="958.24,381.47 968.45,395.29 958.24,409.11 948.03,395.29"/><polygon points="958.24,413.06 968.45,426.89 958.24,440.71 948.03,426.89"/><polygon points="958.24,444.66 968.45,458.48 958.24,472.30 948.03,458.48"/><polygon points="958.24,476.25 968.45,490.08 958.24,503.90 948.03,490.08"/><polygon points="958.24,509.85 966.91,521.67 958.24,533.49 949.56,521.67"/><polygon points="958.24,541.44 966.91,553.27 958.24,565.09 949.56,553.27"/><polygon points="958.24,573.04 966.91,584.86 958.24,596.68 949.56,584.86"/><polygon points="958.24,602.63 968.45,616.46 958.24,630.28 948.03,616.46"/><polygon points="958.24,634.23 968.45,648.05 958.24,661.87 948.03,648.05"/><polygon points="958.24,661.81 971.52,679.65 958.24,697.48 944.96,679.65"/><polygon points="958.24,697.42 968.45,711.24 958.24,725.06 948.03,711.24"/><polygon points="958.24,729.01 968.45,742.84 958.24,756.66 948.03,742.84"/><polygon points="958.24,760.61 968.45,774.43 958.24,788.25 948.03,774.43"/><polygon points="958.24,792.20 968.45,806.03 958.24,819.85 948.03,806.03"/><polygon points="958.24,823.80 968.45,837.62 958.24,851.44 948.03,837.62"/><polygon points="958.24,855.39 968.45,869.22 958.24,883.04 948.03,869.22"/><polygon points="958.24,886.99 968.45,900.81 958.24,914.63 948.03,900.81"/><polygon points="958.24,918.58 968.45,932.41 958.24,946.23 948.03,932.41"/><polygon points="958.24,950.18 968.45,964.00 958.24,977.82 948.03,964.00"/><polygon points="958.24,981.77 968.45,995.60 958.24,1009.42 948.03,995.60"/><polygon points="958.24,1013.37 968.45,1027.19 958.24,1041.01 948.03,1027.19"/><polygon points="958.24,1044.96 968.45,1058.79 958.24,1072.61 948.03,1058.79"/><polygon points="958.24,1076.56 968.45,1090.38 958.24,1104.20 948.03,1090.38"/><polygon points="958.24,1108.15 968.45,1121.98 958.24,1135.80 948.03,1121.98"/><polygon points="958.24,1139.75 968.45,1153.57 958.24,1167.39 948.03,1153.57"/><polygon points="958.24,1171.34 968.45,1185.16 958.24,1198.99 948.03,1185.16"/><polygon points="958.24,1202.94 968.45,1216.76 958.24,1230.58 948.03,1216.76"/><polygon points="958.24,1234.53 968.45,1248.36 958.24,1262.18 948.03,1248.36"/></g>
<text x="103.45" y="1256.36" font-family="Liberation Sans, Arial, sans-serif" font-size="19.2" font-weight="bold" fill="#262626" text-anchor="end" textLength="36.3" lengthAdjust="spacingAndGlyphs">DEC</text>
<text x="120.9" y="1256.36" font-family="Liberation Sans, Arial, sans-serif" font-size="19.2" font-weight="bold" fill="#262626" text-anchor="end">1</text>
<text x="103.45" y="1224.76" font-family="Liberation Sans, Arial, sans-serif" font-size="19.2" font-weight="bold" fill="#262626" text-anchor="end" textLength="36.3" lengthAdjust="spacingAndGlyphs">DEC</text>
<text x="120.9" y="1224.76" font-family="Liberation Sans, Arial, sans-serif" font-size="19.2" font-weight="bold" fill="#262626" text-anchor="end">2</text>
<text x="103.45" y="1193.16" font-family="Liberation Sans, Arial, sans-serif" font-size="19.2" font-weight="bold" fill="#262626" text-anchor="end" textLength="36.3" lengthAdjust="spacingAndGlyphs">DEC</text>
<text x="120.9" y="1193.16" font-family="Liberation Sans, Arial, sans-serif" font-size="19.2" font-weight="bold" fill="#262626" text-anchor="end">3</text>
<text x="103.45" y="1161.57" font-family="Liberation Sans, Arial, sans-serif" font-size="19.2" font-weight="bold" fill="#262626" text-anchor="end" textLength="36.3" lengthAdjust="spacingAndGlyphs">DEC</text>
<text x="120.9" y="1161.57" font-family="Liberation Sans, Arial, sans-serif" font-size="19.2" font-weight="bold" fill="#262626" text-anchor="end">4</text>
<text x="103.45" y="1129.98" font-family="Liberation Sans, Arial, sans-serif" font-size="19.2" font-weight="bold" fill="#262626" text-anchor="end" textLength="36.3" lengthAdjust="spacingAndGlyphs">DEC</text>
<text x="120.9" y="1129.98" font-family="Liberation Sans, Arial, sans-serif" font-size="19.2" font-weight="bold" fill="#262626" text-anchor="end">5</text>
<text x="103.45" y="1098.38" font-family="Liberation Sans, Arial, sans-serif" font-size="19.2" font-weight="bold" fill="#262626" text-anchor="end" textLength="36.3" lengthAdjust="spacingAndGlyphs">DEC</text>
<text x="120.9" y="1098.38" font-family="Liberation Sans, Arial, sans-serif" font-size="19.2" font-weight="bold" fill="#262626" text-anchor="end">6</text>
<text x="103.45" y="1066.79" font-family="Liberation Sans, Arial, sans-serif" font-size="19.2" font-weight="bold" fill="#262626" text-anchor="end" textLength="36.3" lengthAdjust="spacingAndGlyphs">DEC</text>
<text x="120.9" y="1066.79" font-family="Liberation Sans, Arial, sans-serif" font-size="19.2" font-weight="bold" fill="#262626" text-anchor="end">7</text>
<text x="103.45" y="1035.19" font-family="Liberation Sans, Arial, sans-serif" font-size="19.2" font-weight="bold" fill="#262626" text-anchor="end" textLength="36.3" lengthAdjust="spacingAndGlyphs">DEC</text>
<text x="120.9" y="1035.19" font-family="Liberation Sans, Arial, sans-serif" font-size="19.2" font-weight="bold" fill="#262626" text-anchor="end">8</text>
<text x="103.45" y="1003.60" font-family="Liberation Sans, Arial, sans-serif" font-size="19.2" font-weight="bold" fill="#262626" text-anchor="end" textLength="36.3" lengthAdjust="spacingAndGlyphs">DEC</text>
<text x="120.9" y="1003.60" font-family="Liberation Sans, Arial, sans-serif" font-size="19.2" font-weight="bold" fill="#262626" text-anchor="end">9</text>
<text x="90.95" y="972.00" font-family="Liberation Sans, Arial, sans-serif" font-size="19.2" font-weight="bold" fill="#262626" text-anchor="end" textLength="36.3" lengthAdjust="spacingAndGlyphs">DEC</text>
<text x="120.0" y="972.00" font-family="Liberation Sans, Arial, sans-serif" font-size="19.2" font-weight="bold" fill="#262626" text-anchor="end">10</text>
<text x="90.95" y="940.41" font-family="Liberation Sans, Arial, sans-serif" font-size="19.2" font-weight="bold" fill="#262626" text-anchor="end" textLength="36.3" lengthAdjust="spacingAndGlyphs">DEC</text>
<text x="120.0" y="940.41" font-family="Liberation Sans, Arial, sans-serif" font-size="19.2" font-weight="bold" fill="#262626" text-anchor="end">11</text>
<text x="90.95" y="908.81" font-family="Liberation Sans, Arial, sans-serif" font-size="19.2" font-weight="bold" fill="#262626" text-anchor="end" textLength="36.3" lengthAdjust="spacingAndGlyphs">DEC</text>
<text x="120.0" y="908.81" font-family="Liberation Sans, Arial, sans-serif" font-size="19.2" font-weight="bold" fill="#262626" text-anchor="end">12</text>
<text x="90.95" y="877.22" font-family="Liberation Sans, Arial, sans-serif" font-size="19.2" font-weight="bold" fill="#262626" text-anchor="end" textLength="36.3" lengthAdjust="spacingAndGlyphs">DEC</text>
<text x="120.0" y="877.22" font-family="Liberation Sans, Arial, sans-serif" font-size="19.2" font-weight="bold" fill="#262626" text-anchor="end">13</text>
<text x="90.95" y="845.62" font-family="Liberation Sans, Arial, sans-serif" font-size="19.2" font-weight="bold" fill="#262626" text-anchor="end" textLength="36.3" lengthAdjust="spacingAndGlyphs">DEC</text>
<text x="120.0" y="845.62" font-family="Liberation Sans, Arial, sans-serif" font-size="19.2" font-weight="bold" fill="#262626" text-anchor="end">14</text>
<text x="90.95" y="814.03" font-family="Liberation Sans, Arial, sans-serif" font-size="19.2" font-weight="bold" fill="#262626" text-anchor="end" textLength="36.3" lengthAdjust="spacingAndGlyphs">DEC</text>
<text x="120.0" y="814.03" font-family="Liberation Sans, Arial, sans-serif" font-size="19.2" font-weight="bold" fill="#262626" text-anchor="end">15</text>
<text x="90.95" y="782.43" font-family="Liberation Sans, Arial, sans-serif" font-size="19.2" font-weight="bold" fill="#262626" text-anchor="end" textLength="36.3" lengthAdjust="spacingAndGlyphs">DEC</text>
<text x="120.0" y="782.43" font-family="Liberation Sans, Arial, sans-serif" font-size="19.2" font-weight="bold" fill="#262626" text-anchor="end">16</text>
<text x="90.95" y="750.84" font-family="Liberation Sans, Arial, sans-serif" font-size="19.2" font-weight="bold" fill="#262626" text-anchor="end" textLength="36.3" lengthAdjust="spacingAndGlyphs">DEC</text>
<text x="120.0" y="750.84" font-family="Liberation Sans, Arial, sans-serif" font-size="19.2" font-weight="bold" fill="#262626" text-anchor="end">17</text>
<text x="90.95" y="719.24" font-family="Liberation Sans, Arial, sans-serif" font-size="19.2" font-weight="bold" fill="#262626" text-anchor="end" textLength="36.3" lengthAdjust="spacingAndGlyphs">DEC</text>
<text x="120.0" y="719.24" font-family="Liberation Sans, Arial, sans-serif" font-size="19.2" font-weight="bold" fill="#262626" text-anchor="end">18</text>
<text x="90.95" y="687.65" font-family="Liberation Sans, Arial, sans-serif" font-size="19.2" font-weight="bold" fill="#262626" text-anchor="end" textLength="36.3" lengthAdjust="spacingAndGlyphs">DEC</text>
<text x="120.0" y="687.65" font-family="Liberation Sans, Arial, sans-serif" font-size="19.2" font-weight="bold" fill="#262626" text-anchor="end">19</text>
<text x="90.95" y="656.05" font-family="Liberation Sans, Arial, sans-serif" font-size="19.2" font-weight="bold" fill="#262626" text-anchor="end" textLength="36.3" lengthAdjust="spacingAndGlyphs">DEC</text>
<text x="120.0" y="656.05" font-family="Liberation Sans, Arial, sans-serif" font-size="19.2" font-weight="bold" fill="#262626" text-anchor="end">20</text>
<text x="90.95" y="624.46" font-family="Liberation Sans, Arial, sans-serif" font-size="19.2" font-weight="bold" fill="#262626" text-anchor="end" textLength="36.3" lengthAdjust="spacingAndGlyphs">DEC</text>
<text x="120.0" y="624.46" font-family="Liberation Sans, Arial, sans-serif" font-size="19.2" font-weight="bold" fill="#262626" text-anchor="end">21</text>
<text x="90.95" y="592.86" font-family="Liberation Sans, Arial, sans-serif" font-size="19.2" font-weight="bold" fill="#262626" text-anchor="end" textLength="36.3" lengthAdjust="spacingAndGlyphs">DEC</text>
<text x="120.0" y="592.86" font-family="Liberation Sans, Arial, sans-serif" font-size="19.2" font-weight="bold" fill="#262626" text-anchor="end">22</text>
<text x="90.95" y="561.27" font-family="Liberation Sans, Arial, sans-serif" font-size="19.2" font-weight="bold" fill="#262626" text-anchor="end" textLength="36.3" lengthAdjust="spacingAndGlyphs">DEC</text>
<text x="120.0" y="561.27" font-family="Liberation Sans, Arial, sans-serif" font-size="19.2" font-weight="bold" fill="#262626" text-anchor="end">23</text>
<text x="90.95" y="529.67" font-family="Liberation Sans, Arial, sans-serif" font-size="19.2" font-weight="bold" fill="#262626" text-anchor="end" textLength="36.3" lengthAdjust="spacingAndGlyphs">DEC</text>
<text x="120.0" y="529.67" font-family="Liberation Sans, Arial, sans-serif" font-size="19.2" font-weight="bold" fill="#262626" text-anchor="end">24</text>
<text x="90.95" y="498.08" font-family="Liberation Sans, Arial, sans-serif" font-size="19.2" font-weight="bold" fill="#262626" text-anchor="end" textLength="36.3" lengthAdjust="spacingAndGlyphs">DEC</text>
<text x="120.0" y="498.08" font-family="Liberation Sans, Arial, sans-serif" font-size="19.2" font-weight="bold" fill="#262626" text-anchor="end">25</text>
<text x="90.95" y="466.48" font-family="Liberation Sans, Arial, sans-serif" font-size="19.2" font-weight="bold" fill="#262626" text-anchor="end" textLength="36.3" lengthAdjust="spacingAndGlyphs">DEC</text>
<text x="120.0" y="466.48" font-family="Liberation Sans, Arial, sans-serif" font-size="19.2" font-weight="bold" fill="#262626" text-anchor="end">26</text>
<text x="90.95" y="434.89" font-family="Liberation Sans, Arial, sans-serif" font-size="19.2" font-weight="bold" fill="#262626" text-anchor="end" textLength="36.3" lengthAdjust="spacingAndGlyphs">DEC</text>
<text x="120.0" y="434.89" font-family="Liberation Sans, Arial, sans-serif" font-size="19.2" font-weight="bold" fill="#262626" text-anchor="end">27</text>
<text x="90.95" y="403.29" font-family="Liberation Sans, Arial, sans-serif" font-size="19.2" font-weight="bold" fill="#262626" text-anchor="end" textLength="36.3" lengthAdjust="spacingAndGlyphs">DEC</text>
<text x="120.0" y="403.29" font-family="Liberation Sans, Arial, sans-serif" font-size="19.2" font-weight="bold" fill="#262626" text-anchor="end">28</text>
<text x="90.95" y="371.70" font-family="Liberation Sans, Arial, sans-serif" font-size="19.2" font-weight="bold" fill="#262626" text-anchor="end" textLength="36.3" lengthAdjust="spacingAndGlyphs">DEC</text>
<text x="120.0" y="371.70" font-family="Liberation Sans, Arial, sans-serif" font-size="19.2" font-weight="bold" fill="#262626" text-anchor="end">29</text>
<text x="90.95" y="340.10" font-family="Liberation Sans, Arial, sans-serif" font-size="19.2" font-weight="bold" fill="#262626" text-anchor="end" textLength="36.3" lengthAdjust="spacingAndGlyphs">DEC</text>
<text x="120.0" y="340.10" font-family="Liberation Sans, Arial, sans-serif" font-size="19.2" font-weight="bold" fill="#262626" text-anchor="end">30</text>
<text x="90.95" y="308.51" font-family="Liberation Sans, Arial, sans-serif" font-size="19.2" font-weight="bold" fill="#262626" text-anchor="end" textLength="36.3" lengthAdjust="spacingAndGlyphs">DEC</text>
<text x="120.0" y="308.51" font-family="Liberation Sans, Arial, sans-serif" font-size="19.2" font-weight="bold" fill="#262626" text-anchor="end">31</text>
<text transform="translate(180.45,1287.2) rotate(-90)" x="0" y="0" dy="0.43em" font-family="Liberation Sans, Noto Sans CJK KR, sans-serif" font-size="19" letter-spacing="1.25" font-weight="500" fill="#262626" stroke="#262626" stroke-width="0.25" text-anchor="end">이사야</text>
<text transform="translate(232.30,1287.2) rotate(-90)" x="0" y="0" dy="0.43em" font-family="Liberation Sans, Noto Sans CJK KR, sans-serif" font-size="19" letter-spacing="1.25" font-weight="500" fill="#262626" stroke="#262626" stroke-width="0.25" text-anchor="end">시온</text>
<text transform="translate(284.16,1287.2) rotate(-90)" x="0" y="0" dy="0.43em" font-family="Liberation Sans, Noto Sans CJK KR, sans-serif" font-size="19" letter-spacing="1.25" font-weight="500" fill="#262626" stroke="#262626" stroke-width="0.25" text-anchor="end">땅끝</text>
<text transform="translate(336.01,1287.2) rotate(-90)" x="0" y="0" dy="0.43em" font-family="Liberation Sans, Noto Sans CJK KR, sans-serif" font-size="19" letter-spacing="1.25" font-weight="500" fill="#262626" stroke="#262626" stroke-width="0.25" text-anchor="end">임재</text>
<text transform="translate(387.86,1287.2) rotate(-90)" x="0" y="0" dy="0.43em" font-family="Liberation Sans, Noto Sans CJK KR, sans-serif" font-size="19" letter-spacing="1.25" font-weight="500" fill="#262626" stroke="#262626" stroke-width="0.25" text-anchor="end">감사</text>
<text transform="translate(439.71,1287.2) rotate(-90)" x="0" y="0" dy="0.43em" font-family="Liberation Sans, Noto Sans CJK KR, sans-serif" font-size="19" letter-spacing="1.25" font-weight="500" fill="#262626" stroke="#262626" stroke-width="0.25" text-anchor="end">임마누엘</text>
<text transform="translate(491.57,1287.2) rotate(-90)" x="0" y="0" dy="0.43em" font-family="Liberation Sans, Noto Sans CJK KR, sans-serif" font-size="19" letter-spacing="1.25" font-weight="500" fill="#262626" stroke="#262626" stroke-width="0.25" text-anchor="end">요나단</text>
<text transform="translate(543.42,1287.2) rotate(-90)" x="0" y="0" dy="0.43em" font-family="Liberation Sans, Noto Sans CJK KR, sans-serif" font-size="19" letter-spacing="1.25" font-weight="500" fill="#262626" stroke="#262626" stroke-width="0.25" text-anchor="end">섬기는</text>
<text transform="translate(595.27,1287.2) rotate(-90)" x="0" y="0" dy="0.43em" font-family="Liberation Sans, Noto Sans CJK KR, sans-serif" font-size="19" letter-spacing="1.25" font-weight="500" fill="#262626" stroke="#262626" stroke-width="0.25" text-anchor="end">새롬</text>
<text transform="translate(647.12,1287.2) rotate(-90)" x="0" y="0" dy="0.43em" font-family="Liberation Sans, Noto Sans CJK KR, sans-serif" font-size="19" letter-spacing="1.25" font-weight="500" fill="#262626" stroke="#262626" stroke-width="0.25" text-anchor="end">즐거운</text>
<text transform="translate(698.98,1287.2) rotate(-90)" x="0" y="0" dy="0.43em" font-family="Liberation Sans, Noto Sans CJK KR, sans-serif" font-size="19" letter-spacing="1.25" font-weight="500" fill="#262626" stroke="#262626" stroke-width="0.25" text-anchor="end">소원</text>
<text transform="translate(750.83,1287.2) rotate(-90)" x="0" y="0" dy="0.43em" font-family="Liberation Sans, Noto Sans CJK KR, sans-serif" font-size="19" letter-spacing="1.25" font-weight="500" fill="#262626" stroke="#262626" stroke-width="0.25" text-anchor="end">엘림</text>
<text transform="translate(802.68,1287.2) rotate(-90)" x="0" y="0" dy="0.43em" font-family="Liberation Sans, Noto Sans CJK KR, sans-serif" font-size="19" letter-spacing="1.25" font-weight="500" fill="#262626" stroke="#262626" stroke-width="0.25" text-anchor="end">마라나타</text>
<text transform="translate(854.53,1287.2) rotate(-90)" x="0" y="0" dy="0.43em" font-family="Liberation Sans, Noto Sans CJK KR, sans-serif" font-size="19" letter-spacing="1.25" font-weight="500" fill="#262626" stroke="#262626" stroke-width="0.25" text-anchor="end">코람데오</text>
<text transform="translate(906.39,1287.2) rotate(-90)" x="0" y="0" dy="0.43em" font-family="Liberation Sans, Noto Sans CJK KR, sans-serif" font-size="19" letter-spacing="1.25" font-weight="500" fill="#262626" stroke="#262626" stroke-width="0.25" text-anchor="end">드림</text>
<text transform="translate(958.24,1287.2) rotate(-90)" x="0" y="0" dy="0.43em" font-family="Liberation Sans, Noto Sans CJK KR, sans-serif" font-size="19" letter-spacing="1.25" font-weight="500" fill="#262626" stroke="#262626" stroke-width="0.25" text-anchor="end">방주</text>
<text transform="translate(1010.09,1287.2) rotate(-90)" x="0" y="0" dy="0.43em" font-family="Liberation Sans, Noto Sans CJK KR, sans-serif" font-size="19" letter-spacing="1.25" font-weight="500" fill="#262626" stroke="#262626" stroke-width="0.25" text-anchor="end">사랑</text>
<text transform="translate(1061.94,1287.2) rotate(-90)" x="0" y="0" dy="0.43em" font-family="Liberation Sans, Noto Sans CJK KR, sans-serif" font-size="19" letter-spacing="1.25" font-weight="500" fill="#262626" stroke="#262626" stroke-width="0.25" text-anchor="end">기쁨</text>
<text transform="translate(1113.80,1287.2) rotate(-90)" x="0" y="0" dy="0.43em" font-family="Liberation Sans, Noto Sans CJK KR, sans-serif" font-size="19" letter-spacing="1.25" font-weight="500" fill="#262626" stroke="#262626" stroke-width="0.25" text-anchor="end">갈렙회</text>
<text transform="translate(1165.65,1287.2) rotate(-90)" x="0" y="0" dy="0.43em" font-family="Liberation Sans, Noto Sans CJK KR, sans-serif" font-size="19" letter-spacing="1.25" font-weight="500" fill="#262626" stroke="#262626" stroke-width="0.25" text-anchor="end">한나회</text>
</svg>
</body></html>
